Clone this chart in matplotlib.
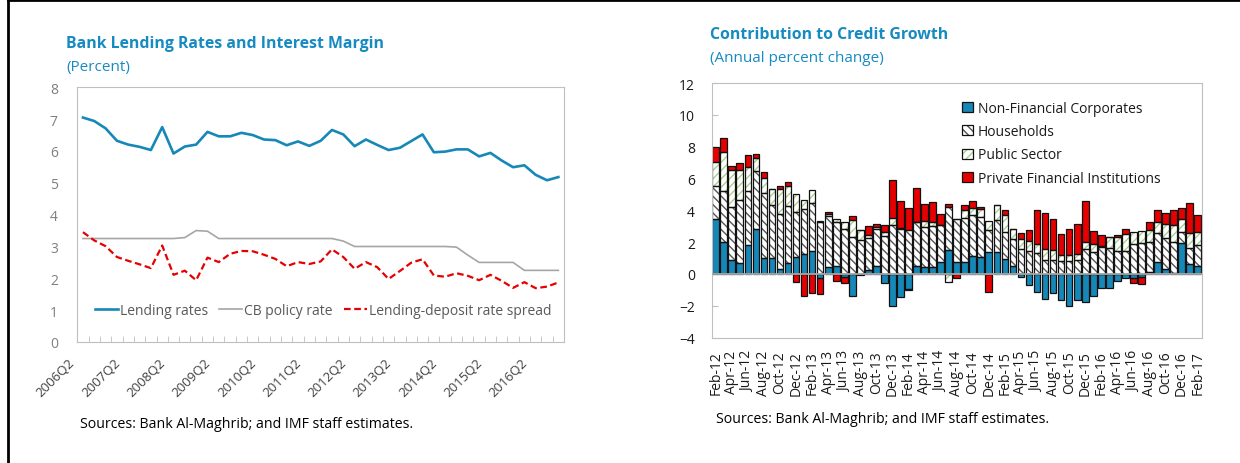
import matplotlib
matplotlib.use('Agg')
import matplotlib.pyplot as plt
import numpy as np
from matplotlib.patches import Patch
from matplotlib.lines import Line2D
from matplotlib.legend_handler import HandlerTuple
from matplotlib.transforms import ScaledTranslation

plt.rcParams['font.family'] = ['Open Sans', 'DejaVu Sans']
plt.rcParams['hatch.linewidth'] = 1.0

W, H = 1240, 464

# ---------------- left panel data (percent) ----------------
quarters = ['%dQ%d' % (y, q) for y in range(2006, 2017) for q in (1, 2, 3, 4)][1:]
lending = [7.05, 6.94, 6.71, 6.32, 6.20, 6.13, 6.03, 6.75, 5.92, 6.14,
           6.20, 6.60, 6.46, 6.46, 6.57, 6.50, 6.36, 6.34, 6.18, 6.30,
           6.16, 6.32, 6.66, 6.52, 6.15, 6.36, 6.19, 6.03, 6.10, 6.31,
           6.52, 5.96, 5.98, 6.05, 6.05, 5.83, 5.94, 5.70, 5.49, 5.55,
           5.25, 5.08, 5.18]
policy = [3.25, 3.25, 3.25, 3.25, 3.25, 3.25, 3.25, 3.25, 3.25, 3.28,
          3.50, 3.48, 3.25, 3.25, 3.25, 3.25, 3.25, 3.25, 3.25, 3.25,
          3.25, 3.25, 3.25, 3.17, 3.00, 3.00, 3.00, 3.00, 3.00, 3.00,
          3.00, 3.00, 3.00, 2.98, 2.73, 2.50, 2.50, 2.50, 2.50, 2.25,
          2.25, 2.25, 2.25]
spread = [3.45, 3.19, 3.01, 2.67, 2.55, 2.44, 2.32, 3.03, 2.11, 2.24,
          1.94, 2.65, 2.51, 2.77, 2.86, 2.85, 2.74, 2.61, 2.38, 2.51,
          2.45, 2.53, 2.91, 2.67, 2.30, 2.51, 2.35, 1.98, 2.23, 2.49,
          2.60, 2.09, 2.05, 2.16, 2.08, 1.94, 2.11, 1.92, 1.70, 1.88,
          1.69, 1.74, 1.87]

# ---------------- right panel data (annual percent change) ----------------
mon = ['Jan', 'Feb', 'Mar', 'Apr', 'May', 'Jun', 'Jul', 'Aug', 'Sep', 'Oct', 'Nov', 'Dec']
months = ['%s-%d' % (m, y) for y in range(12, 18) for m in mon][1:62]
nfc = [3.48, 2.02, 0.88, 0.71, 1.81, 2.81, 1.02, 1.02, 0.29, 0.71,
       1.06, 1.23, 1.46, -0.27, 0.46, 0.52, -0.17, -1.42, -0.10, 0.23,
       0.52, -0.56, -2.04, -1.48, -0.92, 0.48, 0.46, 0.42, 0.77, 1.50,
       0.77, 0.77, 1.15, 1.08, 1.35, 1.35, 0.92, 0.52, -0.17, -0.69,
       -1.17, -1.58, -1.21, -1.62, -2.04, -1.62, -1.79, -1.42, -0.90, -0.90,
       -0.42, -0.23, -0.27, -0.17, 0.10, 0.77, 0.31, 0.05, 1.96, 0.60, 0.52]
households = [2.02, 3.19, 3.33, 3.96, 3.40, 3.63, 4.06, 3.29, 3.48, 3.56,
              2.84, 2.83, 2.98, 3.23, 3.20, 2.75, 2.85, 2.33, 2.10, 2.04,
              2.29, 2.40, 3.06, 2.81, 2.75, 2.80, 2.50, 2.60, 2.31, 2.70,
              2.65, 2.75, 2.56, 2.52, 1.40, 2.03, 1.73, 1.67, 1.56, 1.46,
              1.29, 0.88, 0.88, 0.83, 0.83, 0.88, 1.56, 1.40, 1.67, 1.65,
              1.46, 1.46, 1.88, 1.92, 1.88, 1.77, 1.96, 1.93, 0.69, 1.00, 1.29]
public = [1.52, 2.48, 2.35, 1.83, 1.50, 0.85, 0.94, 1.00, 1.58, 1.23,
          1.14, 0.61, 0.81, 0.12, 0.10, 0.19, 0.38, 1.04, 0.65, 0.19,
          0.13, 0.25, 0.46, 0.05, -0.08, 0.00, 0.35, 0.25, 0.00, -0.53,
          0.00, 0.50, 0.41, 0.45, 0.60, 0.97, 1.04, 0.66, 0.63, 0.62,
          0.58, 0.68, 0.62, 0.36, 0.36, 0.37, 0.46, 0.45, 0.08, 0.68,
          0.87, 1.02, 0.77, 0.77, 0.77, 0.73, 0.85, 1.08, 0.83, 0.98, 0.84]
private_fin = [0.93, 0.85, 0.21, 0.44, 0.77, 0.27, 0.36, 0.00, 0.15, 0.25,
               -0.48, -1.42, -1.21, -0.98, 0.13, -0.44, -0.42, 0.27, 0.00, 0.58,
               0.18, 0.40, 2.40, 1.74, 1.42, 2.12, 1.10, 1.23, 0.71, 0.20,
               -0.23, 0.29, 0.45, 0.18, -1.15, 0.00, 0.35, 0.00, 0.41, 0.67,
               2.17, 2.29, 1.92, 1.29, 1.60, 1.90, 2.56, 0.86, 0.69, 0.00,
               0.10, 0.37, -0.31, -0.48, 0.48, 0.77, 0.71, 0.94, 0.69, 1.88, 1.04]

BLUE = '#1688B8'
TITLE_BLUE = '#168BC2'
RED = '#E60000'
GRID_GRAY = '#BFBFBF'

fig = plt.figure(figsize=(W / 100, H / 100), dpi=100)


def fx(px):
    return px / W


def fy(py):
    return 1 - py / H


# frame lines of the page
fig.add_artist(Line2D([fx(8), fx(8)], [0, 1], color='black', lw=2))
fig.add_artist(Line2D([fx(8), 1], [fy(1), fy(1)], color='black', lw=2))

#################
## Left panel ##
#################
ax1 = fig.add_axes([fx(77.3), fy(343), fx(564 - 77.3), (343 - 88.3) / H])
x = np.arange(len(quarters))
ax1.plot(x, lending, color=BLUE, lw=1.9, label='Lending rates')
ax1.plot(x, policy, color='#A6A6A6', lw=1.2, label='CB policy rate')
ax1.plot(x, spread, color=RED, lw=1.6, dashes=(3, 1.6), label='Lending-deposit rate spread')
ax1.set_xlim(-0.39, len(quarters) - 1 + 0.45)
ax1.set_ylim(0, 8)
ax1.set_yticks(range(0, 9))
ax1.tick_params(axis='y', length=0, labelsize=10, labelcolor='#7F7F7F', pad=14)
ax1.set_xticks(x[::4])
ax1.set_xticklabels(quarters[::4], rotation=45, ha='right', fontsize=9.5, color='#404040')
ax1.set_xticks(np.arange(-0.5, len(quarters) + 0.5, 1), minor=True)
ax1.tick_params(axis='x', which='major', length=0, pad=10)
ax1.tick_params(axis='x', which='minor', direction='in', length=4, color=GRID_GRAY)
for lbl in ax1.get_xticklabels():
    lbl.set_transform(lbl.get_transform() + ScaledTranslation(-4 / 72, 0, fig.dpi_scale_trans))
for s in ax1.spines.values():
    s.set_color(GRID_GRAY)
ax1.legend(loc='center left', bbox_to_anchor=(0.036, 0.123), ncol=3, frameon=False,
           fontsize=10, handlelength=1.65, handletextpad=0.15, columnspacing=0.8,
           borderpad=0, borderaxespad=0, labelcolor='#595959')

fig.text(fx(66), fy(44), 'Bank Lending Rates and Interest Margin', fontsize=11.4,
         fontweight='bold', color=TITLE_BLUE, va='center', ha='left')
fig.text(fx(66), fy(67), '(Percent)', fontsize=11, color=TITLE_BLUE, va='center', ha='left')
fig.text(fx(80), fy(425), 'Sources: Bank Al-Maghrib; and IMF staff estimates.', fontsize=10.2,
         color='black', va='center', ha='left')

##################
## Right panel ##
##################
ax2 = fig.add_axes([fx(711.7), fy(338.5), fx(490), (338.5 - 84) / H])
xb = np.arange(len(months))
bw = 0.83
series = [
    (nfc, dict(facecolor=BLUE, hatch=None, hcolor=BLUE), 'Non-Financial Corporates'),
    (households, dict(facecolor='white', hatch='\\\\\\\\', hcolor='#555555'), 'Households'),
    (public, dict(facecolor='white', hatch='////', hcolor='#A9D18E'), 'Public Sector'),
    (private_fin, dict(facecolor=RED, hatch=None, hcolor=RED), 'Private Financial Institutions'),
]
pos_b = np.zeros(len(months))
neg_b = np.zeros(len(months))
handles = []
labels = []
for vals, st, name in series:
    v = np.array(vals)
    bottom = np.where(v >= 0, pos_b, neg_b)
    ax2.bar(xb, v, bw, bottom=bottom, facecolor=st['facecolor'], hatch=st['hatch'],
            edgecolor=st['hcolor'], lw=0, zorder=2)
    ax2.bar(xb, v, bw, bottom=bottom, fill=False, edgecolor='#111111', lw=0.9, zorder=2.5)
    pos_b += np.clip(v, 0, None)
    neg_b += np.clip(v, None, 0)
    h_fill = Patch(facecolor=st['facecolor'], hatch=st['hatch'], edgecolor=st['hcolor'], lw=0)
    h_edge = Patch(fill=False, edgecolor='#111111', lw=0.9)
    handles.append((h_fill, h_edge))
    labels.append(name)

ax2.axhline(0, color='#A6A6A6', lw=1.3, zorder=3)
ax2.set_xlim(-0.5, len(months) - 0.5)
ax2.set_ylim(-4, 12)
ax2.set_yticks(range(-4, 13, 2))
ax2.tick_params(axis='y', direction='in', length=4, color=GRID_GRAY, labelsize=10,
                labelcolor='#1A1A1A', pad=12)
ax2.set_xticks(xb[::2])
ax2.set_xticklabels(months[::2], rotation=90, fontsize=10, color='#1A1A1A')
ax2.tick_params(axis='x', length=0, pad=9)
for s in ax2.spines.values():
    s.set_color(GRID_GRAY)
ax2.legend(handles, labels, handler_map={tuple: HandlerTuple(ndivide=1)},
           loc='upper left', bbox_to_anchor=(0.511, 0.93), frameon=False, fontsize=10,
           handlelength=0.75, handleheight=0.75, handletextpad=0.4, labelspacing=0.6,
           borderpad=0, borderaxespad=0, labelcolor='#1A1A1A')

fig.text(fx(710), fy(35), 'Contribution to Credit Growth', fontsize=11.4,
         fontweight='bold', color=TITLE_BLUE, va='center', ha='left')
fig.text(fx(710), fy(58), '(Annual percent change)', fontsize=11, color=TITLE_BLUE,
         va='center', ha='left')
fig.text(fx(716), fy(420), 'Sources: Bank Al-Maghrib; and IMF staff estimates.', fontsize=10.2,
         color='black', va='center', ha='left')

fig.savefig('out.png', dpi=100)
